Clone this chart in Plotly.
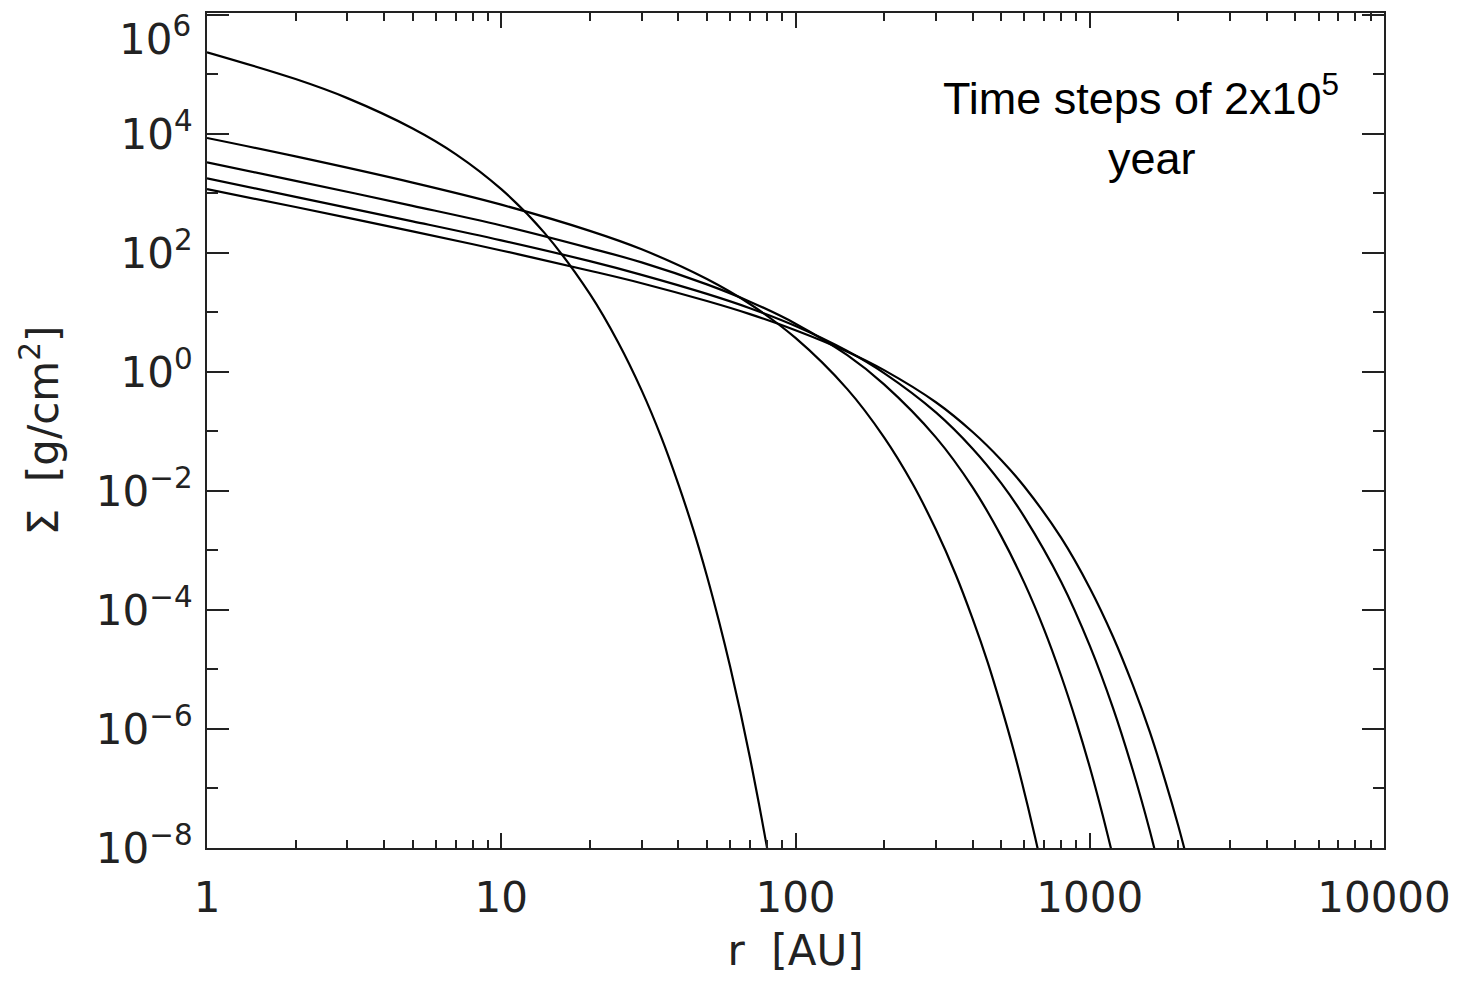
import numpy as np
import plotly.graph_objects as go

# Radius [AU] sample positions and log10(Sigma [g/cm^2])
r_A = [1, 2, 3, 5, 7, 10, 14, 20, 25, 30, 35, 40, 45, 50, 55, 60, 65, 70, 75, 80, 82]
logS_A = [5.37, 4.92, 4.60, 4.09, 3.66, 3.07, 2.34, 1.31, 0.49, -0.31, -1.10, -1.89,
          -2.66, -3.43, -4.20, -4.96, -5.72, -6.48, -7.24, -7.99, -8.29]

r_B = [1, 2, 5, 10, 20, 30, 50, 70, 100, 150, 200, 250, 300, 350, 400, 450, 500,
       550, 600, 650, 680]
logS_B = [3.93, 3.62, 3.18, 2.81, 2.37, 2.06, 1.56, 1.14, 0.57, -0.29, -1.10, -1.88,
          -2.65, -3.40, -4.15, -4.88, -5.62, -6.34, -7.07, -7.79, -8.22]

r_C = [1, 2, 5, 10, 20, 30, 50, 70, 100, 150, 200, 300, 400, 500, 600, 700, 800,
       900, 1000, 1100, 1200]
logS_C = [3.52, 3.21, 2.79, 2.46, 2.08, 1.84, 1.47, 1.18, 0.81, 0.28, -0.21, -1.10,
          -1.94, -2.76, -3.55, -4.33, -5.11, -5.88, -6.64, -7.40, -8.15]

r_D = [1, 2, 5, 10, 20, 30, 50, 70, 100, 150, 200, 300, 400, 500, 600, 800, 1000,
       1200, 1400, 1600, 1700]
logS_D = [3.25, 2.94, 2.53, 2.21, 1.86, 1.63, 1.31, 1.07, 0.77, 0.35, -0.02, -0.68,
          -1.29, -1.87, -2.44, -3.53, -4.60, -5.65, -6.69, -7.71, -8.23]

r_E = [1, 2, 5, 10, 20, 30, 50, 70, 100, 150, 200, 300, 400, 500, 600, 800, 1000,
       1200, 1400, 1600, 1800, 2000, 2150]
logS_E = [3.07, 2.77, 2.36, 2.04, 1.70, 1.49, 1.19, 0.97, 0.70, 0.34, 0.03, -0.51,
          -1.01, -1.48, -1.93, -2.79, -3.63, -4.45, -5.26, -6.05, -6.85, -7.63, -8.22]

x_tickvals = [1, 10, 100, 1000, 10000]
x_ticktext = ["1", "10", "100", "1000", "10000"]
y_exponents = [-8, -6, -4, -2, 0, 2, 4, 6]
y_minor_exponents = [-7, -5, -3, -1, 1, 3, 5]

series = [(r_A, logS_A), (r_B, logS_B), (r_C, logS_C), (r_D, logS_D), (r_E, logS_E)]

# plot-area pixel box on screen (page body has an 8px default margin)
PX0, PX1, PY0, PY1 = 207, 1384, 13, 848
def px_x(px):
    return (px - PX0) / (PX1 - PX0)
def px_y(py):
    return (PY1 - py) / (PY1 - PY0)

fig = go.Figure()
for r, ls in series:
    fig.add_trace(go.Scatter(
        x=r, y=10 ** np.array(ls, dtype=float), mode="lines",
        line=dict(color="black", width=2.2, shape="spline"),
        showlegend=False, hoverinfo="skip"))

INK = "#222222"
tickfont = dict(family="DejaVu Sans", size=42, color=INK)

def exp_label(e):
    return "10<sup>%s</sup>" % str(e).replace("-", "−")

y_ticktext = [exp_label(e) if e != 6 else "" for e in y_exponents]

fig.update_xaxes(
    type="log", range=[0, 4],
    tickvals=x_tickvals, ticktext=x_ticktext,
    ticks="inside", ticklen=15, tickwidth=2, tickcolor=INK,
    minor=dict(ticks="inside", ticklen=8, tickwidth=1.5, tickcolor=INK, dtick="D1"),
    showline=True, linewidth=2, linecolor=INK, mirror="allticks",
    showgrid=False, zeroline=False,
    tickfont=tickfont, ticklabelstandoff=12,
    title=dict(text="r  [AU]", font=dict(family="DejaVu Sans", size=42, color=INK),
               standoff=14),
)

fig.update_yaxes(
    type="log", range=[-8, 6.03],
    tickvals=[10.0 ** e for e in y_exponents],
    ticktext=y_ticktext,
    ticks="inside", ticklen=22, tickwidth=2, tickcolor=INK,
    minor=dict(ticks="inside", ticklen=11, tickwidth=2, tickcolor=INK,
               tickvals=[10.0 ** e for e in y_minor_exponents]),
    showline=True, linewidth=2, linecolor=INK, mirror="allticks",
    showgrid=False, zeroline=False,
    tickfont=tickfont, ticklabelstandoff=4,
    title=dict(text="Σ  [g/cm<sup>2</sup>]",
               font=dict(family="DejaVu Sans", size=42, color=INK), standoff=24),
)

# top tick label (10^6) sits slightly lowered in the reference so it stays inside the frame
fig.add_annotation(
    text=exp_label(6), xref="paper", yref="paper",
    x=px_x(193), y=px_y(37), xanchor="right", yanchor="middle",
    showarrow=False, font=tickfont)

fig.add_annotation(
    text="Time steps of 2x10<sup>5</sup>", xref="paper", yref="paper",
    x=px_x(1141), y=px_y(95), xanchor="center", yanchor="middle",
    showarrow=False, font=dict(family="Liberation Sans, Arial", size=45, color="black"))
fig.add_annotation(
    text="year", xref="paper", yref="paper",
    x=px_x(1152), y=px_y(158), xanchor="center", yanchor="middle",
    showarrow=False, font=dict(family="Liberation Sans, Arial", size=45, color="black"))

fig.update_layout(
    width=1461, height=982,
    margin=dict(l=PX0 - 8, r=1461 + 8 - PX1, t=PY0 - 8, b=982 + 8 - PY1, autoexpand=False),
    paper_bgcolor="white", plot_bgcolor="white",
)

fig.write_html("out.html")
